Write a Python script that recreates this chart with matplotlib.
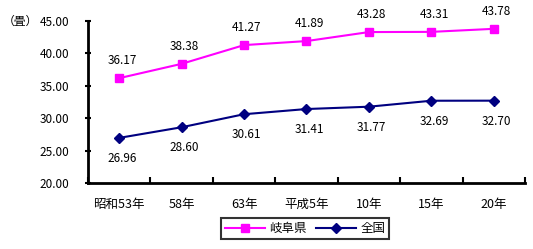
import numpy as np
import matplotlib.pyplot as plt

plt.rcParams['font.family'] = ['Noto Sans CJK JP', 'DejaVu Sans']

# Data
years = ['昭和53年', '58年', '63年', '平成5年', '10年', '15年', '20年']
gifu = [36.17, 38.38, 41.27, 41.89, 43.28, 43.31, 43.78]
zenkoku = [26.96, 28.60, 30.61, 31.41, 31.77, 32.69, 32.70]

fig = plt.figure(figsize=(5.33, 2.49), dpi=100)
ax = fig.add_axes([0.165, 0.265, 0.82, 0.651])

x = np.arange(len(years)) + 0.5
ax.plot(x, gifu, color='#FF00FF', marker='s', markersize=6, lw=1.5, label='岐阜県')
ax.plot(x, zenkoku, color='#000080', marker='D', markersize=5.5, lw=1.5, label='全国')

for xi, v in zip(x, gifu):
    ax.annotate(f'{v:.2f}', (xi, v), xytext=(2, 8), textcoords='offset points',
                ha='center', va='bottom', fontsize=8.5)
for xi, v in zip(x, zenkoku):
    ax.annotate(f'{v:.2f}', (xi, v), xytext=(2, -10), textcoords='offset points',
                ha='center', va='top', fontsize=8.5)

ax.set_xlim(0, len(years))
ax.set_ylim(20, 45)
ax.set_yticks(np.arange(20, 46, 5))
ax.set_yticklabels([f'{t:.2f}' for t in np.arange(20, 46, 5)], fontsize=8.5)
ax.set_xticks(x)
ax.set_xticklabels(years, fontsize=9)
ax.set_xticks(np.arange(len(years) + 1), minor=True)
ax.tick_params(axis='x', which='major', length=0, pad=11)
ax.tick_params(axis='x', which='minor', direction='in', length=4, width=1.5)
ax.tick_params(axis='y', direction='inout', length=5, width=1.5, pad=11)

for s in ['top', 'right']:
    ax.spines[s].set_visible(False)
for s in ['left', 'bottom']:
    ax.spines[s].set_linewidth(2)

fig.text(0.072, 0.915, '（畳）', fontsize=8.5, va='center', ha='right')

leg = ax.legend(loc='center', bbox_to_anchor=(0.497, -0.28), ncol=2, fontsize=9,
                frameon=True, fancybox=False, edgecolor='black', handlelength=3.2,
                borderpad=0.3, columnspacing=0.8, handletextpad=0.3)
leg.get_frame().set_linewidth(1.5)

fig.savefig('out.png', dpi=100)
